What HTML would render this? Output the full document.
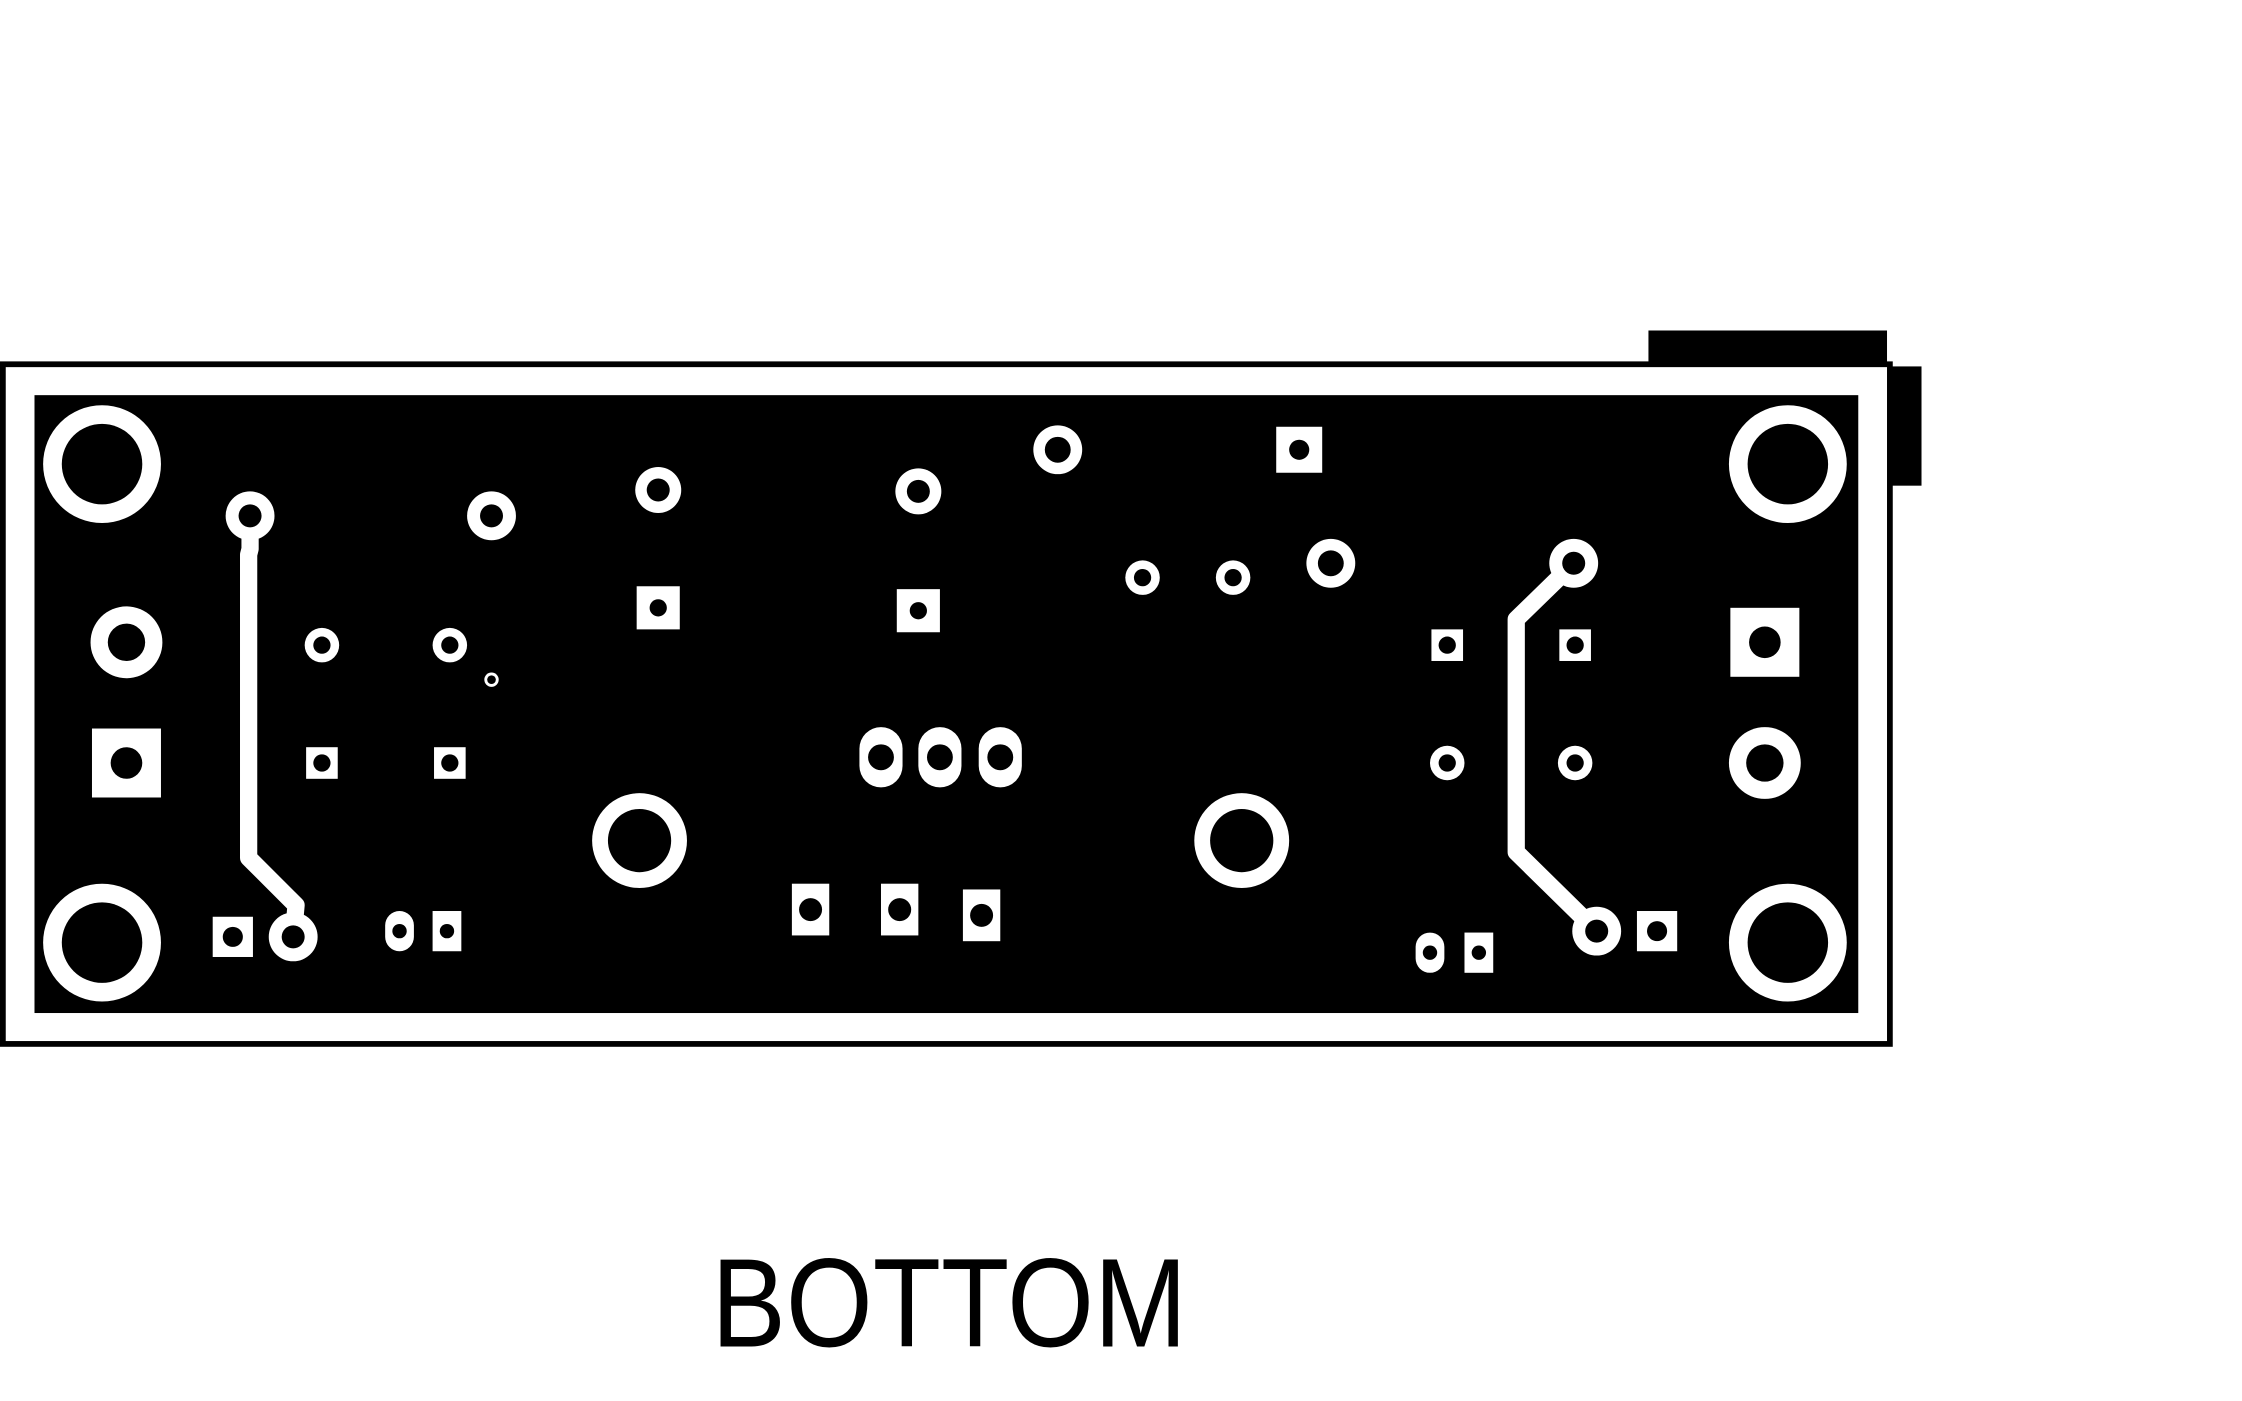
<!DOCTYPE html>
<html><head><meta charset="utf-8"><style>html,body{margin:0;padding:0;background:#fff}svg{display:block}</style></head>
<body>
<svg width="2242" height="1401" viewBox="0 0 1560 975" preserveAspectRatio="none">
<rect x="1147" y="230" width="166" height="24" fill="#000"/>
<rect x="1314" y="255" width="23" height="83" fill="#000"/>
<rect x="2" y="253.5" width="1313" height="473" fill="#fff" stroke="#000" stroke-width="4"/>
<rect x="24" y="275" width="1269" height="430" fill="#000"/>
<g fill="none" stroke="#fff" stroke-width="12" stroke-linejoin="round">
<polyline points="174,359 174,382 173,386 173,597 206,630 204,652"/>
<polyline points="1095,392 1055,431 1055,593 1111,648"/>
</g>
<g id="pads"></g>
<text x="495" y="937" font-family="Liberation Sans, sans-serif" font-size="88" textLength="331" lengthAdjust="spacingAndGlyphs" fill="#000">BOTTOM</text>
</svg>
<script>
const rings=[[71,323,41,28],[71,656,41,28],[1244,323,41,28],[1244,656,41,28],[445,585,33,22],[864,585,33,22],[88,447,25,13],[1228,531,25,13],[342,359,17,8],[458,341,16,8],[639,342,16,8],[736,313,17,9],[926,392,17,9],[174,359,17,8],[204,652,17,8],[1095,392,17,8],[1111,648,17,8],[224,449,12,6],[313,449,12,6],[795,402,12,6],[858,402,12,6],[1007,531,12,6],[1096,531,12,6],[342,473,5,3]];
const squares=[[88,531,48,48,11],[1228,447,48,48,11],[224,531,22,22,6],[313,531,22,22,6],[1007,449,22,22,6],[1096,449,22,22,6],[458,423,30,30,6],[639,425,30,30,6],[904,313,32,32,7],[162,652,28,28,7],[1153,648,28,28,7],[311,648,20,28,5],[1029,663,20,28,5],[564,633,26,36,8],[626,633,26,36,8],[683,637,26,36,8]];
const ovals=[[278,648,20,28,5],[995,663,20,28,5],[613,527,30,42,9],[654,527,30,42,9],[696,527,30,42,9]];
const NS='http://www.w3.org/2000/svg';
const g=document.getElementById('pads');
function hole(x,y,r){const h=document.createElementNS(NS,'circle');h.setAttribute('cx',x);h.setAttribute('cy',y);h.setAttribute('r',r);h.setAttribute('fill','#000');


g.appendChild(h);}
rings.forEach(d=>{const c=document.createElementNS(NS,'circle');c.setAttribute('cx',d[0]);c.setAttribute('cy',d[1]);c.setAttribute('r',d[2]);c.setAttribute('fill','#fff');


g.appendChild(c);hole(d[0],d[1],d[3]);});
squares.forEach(d=>{const r=document.createElementNS(NS,'rect');r.setAttribute('x',d[0]-d[2]/2);r.setAttribute('y',d[1]-d[3]/2);r.setAttribute('width',d[2]);r.setAttribute('height',d[3]);r.setAttribute('fill','#fff');


g.appendChild(r);hole(d[0],d[1],d[4]);});
ovals.forEach(d=>{const r=document.createElementNS(NS,'rect');r.setAttribute('x',d[0]-d[2]/2);r.setAttribute('y',d[1]-d[3]/2);r.setAttribute('width',d[2]);r.setAttribute('height',d[3]);r.setAttribute('rx',d[2]/2);r.setAttribute('fill','#fff');


g.appendChild(r);hole(d[0],d[1],d[4]);});
</script>
</body></html>
